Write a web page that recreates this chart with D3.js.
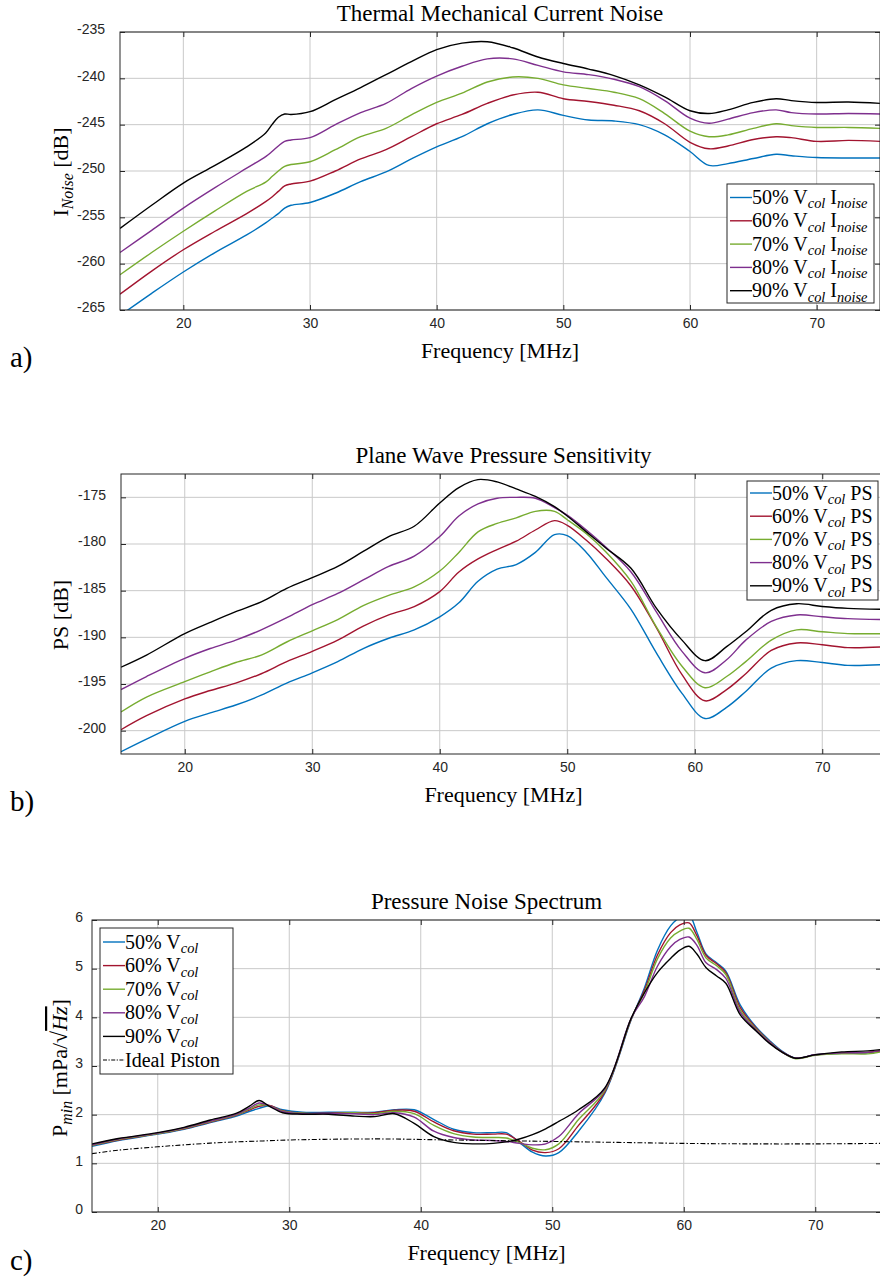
<!DOCTYPE html>
<html>
<head>
<meta charset="utf-8">
<script src="https://cdn.jsdelivr.net/npm/d3@7"></script>
<style>
  body { margin: 0; background: #fff; }
</style>
</head>
<body>
<div id="chart"></div>
<script>
// series shared by all three panels
const levels = ["50%", "60%", "70%", "80%", "90%"];
const colors = ["#0072BD", "#A2142F", "#77AC30", "#7E2F8E", "#000000"];
const freqTicks = [20, 30, 40, 50, 60, 70];

// a) thermal mechanical current noise [dB]
const freqA = [15, 17.5, 20, 22.5, 25, 26.5, 27, 27.5, 28, 28.5, 30, 32, 34, 36, 38, 40, 42, 44, 46, 48, 50, 52, 54, 56, 58, 60, 61.5, 63, 65, 66.8, 68, 70, 72.5, 75];
const noise50 = [-265.6, -263.2, -260.9, -258.8, -256.9, -255.6, -255.1, -254.6, -254.0, -253.7, -253.4, -252.4, -251.15, -250.1, -248.7, -247.4, -246.3, -244.9, -243.9, -243.4, -244.0, -244.5, -244.6, -245.0, -246.1, -247.9, -249.4, -249.2, -248.65, -248.2, -248.35, -248.55, -248.6, -248.6];
const noise60 = [-263.3, -260.8, -258.5, -256.5, -254.6, -253.3, -252.8, -252.2, -251.6, -251.4, -251.1, -250.0, -248.7, -247.7, -246.3, -244.9, -243.9, -242.7, -241.8, -241.5, -242.2, -242.5, -242.9, -243.5, -244.9, -246.9, -247.6, -247.3, -246.6, -246.3, -246.4, -246.8, -246.7, -246.8];
const noise70 = [-261.2, -258.8, -256.5, -254.3, -252.2, -251.2, -250.6, -250.0, -249.5, -249.3, -249.0, -247.7, -246.3, -245.4, -243.95, -242.6, -241.6, -240.4, -239.85, -240.0, -240.7, -241.1, -241.5, -242.2, -243.8, -245.7, -246.3, -246.1, -245.4, -244.9, -245.1, -245.3, -245.3, -245.4];
const noise80 = [-258.8, -256.4, -254.0, -251.8, -249.7, -248.45, -247.9, -247.3, -246.8, -246.65, -246.4, -245.0, -243.7, -242.7, -241.1, -239.75, -238.7, -237.9, -237.9, -238.6, -239.3, -239.6, -240.1, -240.9, -242.4, -244.3, -244.85, -244.4, -243.7, -243.4, -243.7, -243.85, -243.8, -243.85];
const noise90 = [-256.2, -253.7, -251.3, -249.4, -247.4, -245.9, -245.0, -244.2, -243.85, -243.9, -243.6, -242.3, -241.0, -239.6, -238.2, -236.9, -236.2, -236.05, -236.7, -237.7, -238.4, -239.0, -239.7, -240.7, -242.0, -243.5, -243.8, -243.4, -242.6, -242.2, -242.4, -242.6, -242.55, -242.7];
const ticksA = [-265, -260, -255, -250, -245, -240, -235];

// b) plane wave pressure sensitivity [dB]
const freqB = [15, 17, 20, 22, 24, 26, 28, 30, 32, 34, 36, 38, 40, 41.5, 43, 44.5, 46, 47.5, 49, 50, 51.5, 53, 55, 57, 59, 60.8, 62.5, 64, 66, 68, 70, 72, 75];
const ps50 = [-202.25, -200.9, -199.0, -198.1, -197.25, -196.2, -194.9, -193.8, -192.6, -191.2, -190.1, -189.2, -187.8, -186.3, -184.0, -182.7, -182.2, -180.9, -179.0, -179.1, -180.9, -183.5, -187.0, -191.7, -196.0, -198.7, -197.5, -195.8, -193.3, -192.5, -192.7, -193.0, -192.9];
const ps60 = [-199.9, -198.4, -196.6, -195.7, -194.9, -193.9, -192.6, -191.5, -190.3, -188.8, -187.6, -186.7, -185.1, -183.0, -181.6, -180.6, -179.7, -178.5, -177.5, -178.0, -179.6, -181.5, -184.5, -189.0, -194.0, -196.8, -195.6, -193.9, -191.4, -190.6, -190.8, -191.1, -191.0];
const ps70 = [-198.0, -196.4, -194.75, -193.7, -192.7, -191.9, -190.5, -189.3, -188.1, -186.6, -185.5, -184.6, -182.9, -180.9, -178.7, -177.8, -177.2, -176.5, -176.5, -177.4, -178.9, -180.8, -184.0, -188.9, -193.1, -195.4, -194.2, -192.6, -190.3, -189.2, -189.4, -189.6, -189.6];
const ps80 = [-195.6, -194.2, -192.25, -191.2, -190.3, -189.2, -187.9, -186.5, -185.3, -183.85, -182.4, -181.3, -179.2, -177.0, -175.7, -175.1, -175.0, -175.1, -176.1, -176.9, -178.5, -180.3, -183.0, -187.3, -191.5, -193.8, -192.4, -190.3, -188.3, -187.6, -187.8, -188.0, -188.1];
const ps90 = [-193.2, -191.9, -189.6, -188.4, -187.25, -186.2, -184.75, -183.6, -182.4, -180.8, -179.2, -178.1, -175.6, -173.95, -173.1, -173.35, -174.1, -174.9, -176.0, -177.0, -178.7, -180.4, -182.6, -186.9, -190.3, -192.5, -191.0, -189.4, -187.1, -186.4, -186.7, -186.9, -187.0];
const ticksB = [-200, -195, -190, -185, -180, -175];

// c) pressure noise spectrum [mPa/sqrt(Hz)]
const freqC = [15, 17, 20, 22, 24, 26, 27, 27.7, 28.5, 29.5, 31, 33, 35, 36.5, 38, 39.5, 41, 42.5, 44, 45.5, 46.5, 47.5, 48.5, 49.5, 50.5, 52, 54, 56, 57, 58, 59, 59.7, 60.4, 61, 61.7, 62.5, 63.2, 64.3, 65.5, 66.5, 67.5, 68.5, 70, 72, 74, 75];
const pmin50 = [1.35, 1.47, 1.60, 1.70, 1.84, 1.97, 2.07, 2.13, 2.18, 2.10, 2.05, 2.05, 2.05, 2.05, 2.10, 2.10, 1.90, 1.70, 1.63, 1.63, 1.63, 1.43, 1.23, 1.15, 1.22, 1.66, 2.44, 3.95, 4.60, 5.38, 5.88, 6.05, 6.10, 5.75, 5.30, 5.12, 4.95, 4.25, 3.80, 3.53, 3.30, 3.16, 3.23, 3.26, 3.27, 3.31];
const pmin60 = [1.37, 1.48, 1.61, 1.71, 1.85, 1.99, 2.10, 2.17, 2.19, 2.08, 2.03, 2.03, 2.04, 2.04, 2.09, 2.07, 1.85, 1.67, 1.60, 1.60, 1.60, 1.45, 1.27, 1.22, 1.30, 1.78, 2.47, 3.96, 4.55, 5.28, 5.74, 5.90, 5.94, 5.68, 5.27, 5.10, 4.92, 4.20, 3.78, 3.51, 3.29, 3.16, 3.23, 3.27, 3.28, 3.31];
const pmin70 = [1.37, 1.49, 1.61, 1.72, 1.86, 2.00, 2.12, 2.20, 2.18, 2.07, 2.03, 2.02, 2.04, 2.02, 2.07, 2.02, 1.78, 1.61, 1.54, 1.53, 1.52, 1.43, 1.31, 1.28, 1.40, 1.90, 2.50, 3.97, 4.50, 5.20, 5.63, 5.77, 5.83, 5.60, 5.22, 5.06, 4.88, 4.15, 3.76, 3.50, 3.28, 3.15, 3.22, 3.25, 3.25, 3.29];
const pmin80 = [1.38, 1.50, 1.62, 1.73, 1.87, 2.01, 2.14, 2.24, 2.18, 2.06, 2.02, 2.02, 2.02, 2.00, 2.04, 1.95, 1.66, 1.53, 1.48, 1.47, 1.45, 1.41, 1.38, 1.40, 1.55, 2.02, 2.53, 3.98, 4.42, 5.05, 5.45, 5.60, 5.65, 5.48, 5.12, 4.98, 4.80, 4.10, 3.74, 3.49, 3.28, 3.16, 3.23, 3.27, 3.28, 3.32];
const pmin90 = [1.40, 1.51, 1.63, 1.74, 1.89, 2.03, 2.18, 2.29, 2.17, 2.04, 2.01, 2.01, 1.97, 1.96, 2.02, 1.82, 1.55, 1.43, 1.40, 1.41, 1.44, 1.50, 1.59, 1.71, 1.86, 2.10, 2.55, 3.98, 4.50, 4.92, 5.21, 5.38, 5.46, 5.30, 5.02, 4.85, 4.70, 4.05, 3.72, 3.47, 3.28, 3.16, 3.23, 3.29, 3.31, 3.34];
const freqPiston = [15, 17, 20, 22, 25, 28, 30, 35, 38, 40, 45, 50, 55, 60, 65, 70, 75];
const pminPiston = [1.20, 1.27, 1.34, 1.38, 1.43, 1.46, 1.48, 1.50, 1.50, 1.49, 1.47, 1.45, 1.43, 1.41, 1.40, 1.40, 1.41];
const ticksC = [0, 1, 2, 3, 4, 5, 6];

const width = 880, height = 1279;
const serif = "'Liberation Serif', 'Times New Roman', serif";
const sans = "'Liberation Sans', Arial, sans-serif";
const axisColor = "#262626";
const gridColor = "#c9c9c9";

const svg = d3.select("#chart").append("svg")
    .attr("width", width)
    .attr("height", height)
    .style("display", "block");

// writes text pieces, [string, isSubscript, isItalic, overline]
function richText(sel, parts, size) {
  let shifted = false;
  parts.forEach(([s, sub, ital, over]) => {
    const t = sel.append("tspan").text(s);
    if (sub && !shifted) { t.attr("dy", size * 0.22); shifted = true; }
    else if (!sub && shifted) { t.attr("dy", -size * 0.22); shifted = false; }
    if (sub) t.attr("font-size", size * 0.72);
    if (sub || ital) t.attr("font-style", "italic");
    if (over) t.attr("text-decoration", "overline");
  });
}

function drawPanel(o) {
  const x = d3.scaleLinear().domain([15, 75]).range(o.xr);
  const y = d3.scaleLinear().domain(o.yd).range(o.yr);
  const [left, right] = o.xr, [bottom, top] = o.yr;
  const g = svg.append("g");

  g.append("clipPath").attr("id", "clip-" + o.key)
    .append("rect")
      .attr("x", left).attr("y", top)
      .attr("width", right - left).attr("height", bottom - top);

  // grid
  g.append("g").selectAll("line").data(freqTicks).join("line")
      .attr("x1", d => x(d)).attr("x2", d => x(d))
      .attr("y1", top).attr("y2", bottom)
      .attr("stroke", gridColor);
  g.append("g").selectAll("line").data(o.yTicks).join("line")
      .attr("x1", left).attr("x2", right)
      .attr("y1", d => y(d)).attr("y2", d => y(d))
      .attr("stroke", gridColor);

  // curves
  const line = d3.line()
      .x(d => x(d[0]))
      .y(d => y(d[1]))
      .curve(d3.curveCatmullRom.alpha(0.5));
  const lines = g.append("g").attr("clip-path", `url(#clip-${o.key})`).attr("fill", "none");
  o.series.forEach(s => {
    lines.append("path")
        .attr("d", line(d3.zip(s.x, s.y)))
        .attr("stroke", s.color)
        .attr("stroke-width", s.width || 1.4)
        .attr("stroke-dasharray", s.dash || null);
  });

  // axes, ticks pointing inward like MATLAB
  const fmt = d => String(d);
  const styleAxis = a => {
    a.select(".domain").remove();
    a.selectAll("line").attr("stroke", axisColor);
    a.selectAll("text").attr("fill", axisColor).attr("font-family", sans).attr("font-size", 14);
  };
  g.append("g").attr("transform", `translate(0,${bottom})`)
      .call(d3.axisBottom(x).tickValues(freqTicks).tickFormat(fmt).tickSize(-5).tickPadding(8.5))
      .call(styleAxis);
  g.append("g").attr("transform", `translate(0,${top})`)
      .call(d3.axisTop(x).tickValues(freqTicks).tickSize(-5).tickFormat(""))
      .call(styleAxis);
  g.append("g").attr("transform", `translate(${left},0)`)
      .call(d3.axisLeft(y).tickValues(o.yTicks).tickFormat(fmt).tickSize(-5).tickPadding(o.yPad))
      .call(styleAxis)
      .call(a => a.selectAll("text").attr("dy", "0.12em"));
  g.append("g").attr("transform", `translate(${right},0)`)
      .call(d3.axisRight(y).tickValues(o.yTicks).tickSize(-5).tickFormat(""))
      .call(styleAxis);

  g.append("rect")
      .attr("x", left).attr("y", top)
      .attr("width", right - left).attr("height", bottom - top)
      .attr("fill", "none").attr("stroke", axisColor);

  // titles and labels
  g.append("text")
      .attr("x", (left + right) / 2).attr("y", top - 11)
      .attr("text-anchor", "middle")
      .attr("font-family", serif).attr("font-size", 23)
      .text(o.title);
  g.append("text")
      .attr("x", (left + right) / 2).attr("y", bottom + 48)
      .attr("text-anchor", "middle")
      .attr("font-family", serif).attr("font-size", 22)
      .text("Frequency [MHz]");
  g.append("text")
      .attr("transform", `translate(${o.ylabelX},${o.ylabelY}) rotate(-90)`)
      .attr("text-anchor", "middle")
      .attr("font-family", serif).attr("font-size", 22)
      .call(t => richText(t, o.ylabel, 22));
  g.append("text")
      .attr("x", 10).attr("y", o.tagY)
      .attr("font-family", serif).attr("font-size", 29)
      .text(o.tag);

  // legend
  const L = o.legend;
  const lg = g.append("g");
  lg.append("rect")
      .attr("x", L.x).attr("y", L.y).attr("width", L.w).attr("height", L.h)
      .attr("fill", "#fff").attr("stroke", axisColor);
  o.series.forEach((s, i) => {
    const cy = L.y0 + i * L.step;
    lg.append("line")
        .attr("x1", L.x + 3).attr("x2", L.x + 25)
        .attr("y1", cy).attr("y2", cy)
        .attr("stroke", s.color).attr("stroke-width", s.width || 1.4)
        .attr("stroke-dasharray", s.dash ? "4,1.5,1.2,1.5" : null);
    lg.append("text")
        .attr("x", L.x + 25).attr("y", cy + 6.5)
        .attr("font-family", serif).attr("font-size", 20)
        .call(t => richText(t, s.label, 20));
  });
}

drawPanel({
  key: "a",
  xr: [120, 880], yr: [310, 32], yd: [-265, -235], yTicks: ticksA, yPad: 15,
  title: "Thermal Mechanical Current Noise",
  ylabel: [["I"], ["Noise", true], [" [dB]"]], ylabelX: 68, ylabelY: 172,
  tag: "a)", tagY: 367,
  series: [noise50, noise60, noise70, noise80, noise90].map((v, i) => ({
    x: freqA, y: v, color: colors[i],
    label: [[levels[i] + " V"], ["col", true], [" I"], ["noise", true]]
  })),
  legend: {x: 727, y: 184, w: 147, h: 119, y0: 197.5, step: 23.3}
});

drawPanel({
  key: "b",
  xr: [121, 886], yr: [754, 474], yd: [-202.5, -172.5], yTicks: ticksB, yPad: 15,
  title: "Plane Wave Pressure Sensitivity",
  ylabel: [["PS [dB]"]], ylabelX: 68, ylabelY: 615,
  tag: "b)", tagY: 811,
  series: [ps50, ps60, ps70, ps80, ps90].map((v, i) => ({
    x: freqB, y: v, color: colors[i],
    label: [[levels[i] + " V"], ["col", true], [" PS"]]
  })),
  legend: {x: 747, y: 481, w: 131, h: 119, y0: 493, step: 23.2}
});

drawPanel({
  key: "c",
  xr: [92, 881], yr: [1212, 920], yd: [0, 6], yTicks: ticksC, yPad: 9,
  title: "Pressure Noise Spectrum",
  ylabel: [["P"], ["min", true], [" [mPa/\u221A"], ["Hz", false, true, true], ["]"]], ylabelX: 67, ylabelY: 1068,
  tag: "c)", tagY: 1270,
  series: [pmin50, pmin60, pmin70, pmin80, pmin90].map((v, i) => ({
    x: freqC, y: v, color: colors[i],
    label: [[levels[i] + " V"], ["col", true]]
  })).concat([{
    x: freqPiston, y: pminPiston, color: "#000", width: 1.1, dash: "5,2,1.5,2",
    label: [["Ideal Piston"]]
  }]),
  legend: {x: 100, y: 928, w: 133, h: 146, y0: 942, step: 23.6}
});
</script>
</body>
</html>
